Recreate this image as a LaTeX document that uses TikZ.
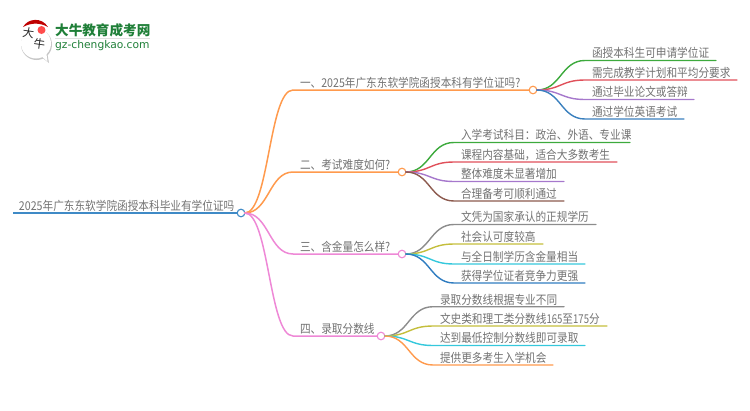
\documentclass[tikz,border=0pt]{standalone}
\usepackage{fontspec}
\setmainfont{Noto Sans CJK SC}
\newfontfamily\urlfont{DejaVu Sans}
\newfontfamily\digitfont[FakeStretch=0.9]{Noto Sans CJK SC}
\usetikzlibrary{calc}
\definecolor{cRoot}{HTML}{3F8AC6}
\definecolor{cOrange}{HTML}{FF9A4D}
\definecolor{cPink}{HTML}{EE88D6}
\definecolor{cGreen}{HTML}{3DAA3D}
\definecolor{cRed}{HTML}{E0505A}
\definecolor{cPurple}{HTML}{A678CC}
\definecolor{cBlue}{HTML}{3A80BE}
\definecolor{cBrown}{HTML}{8C5A4E}
\definecolor{cGray}{HTML}{8C8C8C}
\definecolor{cOlive}{HTML}{C4BE3C}
\definecolor{cCyan}{HTML}{35C8DC}
\definecolor{cDeep}{HTML}{2F7CC0}
\definecolor{cLogo}{HTML}{1F7F38}
\definecolor{cText}{HTML}{727272}
\tikzset{
  label/.style={anchor=base west,inner sep=0pt,outer sep=0pt,text=cText,font=\fontsize{10.65}{12}\selectfont,yscale=1.14,transform shape},
  hub/.style={circle,draw=#1,fill=white,line width=1.1pt,minimum size=7.6pt,inner sep=0pt,outer sep=0pt},
  branchline/.style={draw=#1,line width=1.5pt,line cap=round},
  leafline/.style={draw=#1,line width=1.4pt,line cap=round}
}
% leaf: name, parent hub, bend end x, y, end x, colour, text x, text
\newcommand{\leafitem}[8]{%
  \coordinate (#1s) at (#3,#4);
  \coordinate (#1e) at (#5,#4);
  \node[label] (#1) at (#7,#4-2.6) {#8};
  \draw[leafline=#6] (#2.east) .. controls ($(#2.east)!0.5!(#2.east -| #1s)$) and ($(#1s)!0.5!(#1s -| #2.east)$) .. (#1s) -- (#1e);
}
% branch: name, y, hub x, colour, text
\newcommand{\branchitem}[5]{%
  \node[hub=#4] (#1) at (#3,#2) {};
  \coordinate (#1s) at (293,#2);
  \node[label] (#1t) at (300,#2-2.6) {#5};
  \draw[branchline=#4] (root.east) .. controls (269,213) and (269,#2) .. (#1s) -- (#1.west);
}
\begin{document}
\begin{tikzpicture}[x=1pt,y=-1pt]
\useasboundingbox (0,0) rectangle (750,410);
% logo
\fill[black!22] (36.5,44.5) circle (15.5);
\fill[black!22] (40,56) -- (49,63) -- (47,52) -- cycle;
\fill[white] (36,43.5) circle (15);
\fill[white] (40,55) -- (47.5,61.5) -- (46,51) -- cycle;
\fill[red!75!black] (23,27) .. controls (28,18) and (42,17) .. (48,27) .. controls (40,22.5) and (31,22.5) .. (23,27) -- cycle;
\fill[red!70!white] (41.5,30) circle (4);
\node[inner sep=0pt,text=black!85,font=\fontsize{11.5}{12}\selectfont,rotate=-8] (logoa) at (28.5,32.5) {大};
\node[inner sep=0pt,text=black!85,font=\fontsize{11.5}{12}\selectfont,rotate=-8] (logob) at (39.5,43.5) {牛};
\node[anchor=base west,inner sep=0pt,text=cLogo,font=\fontsize{13.6}{14}\selectfont\bfseries] (brand) at (55,35) {大牛教育成考网};
\draw[black!12,line width=0.8pt] (55,38.5) -- (150,38.5);
\node[anchor=base west,inner sep=0pt,text=cLogo,font=\urlfont\fontsize{10.7}{12}\selectfont] (site) at (55,48) {gz-chengkao.com};
% root
\node[hub=cRoot] (root) at (241,213) {};
\coordinate (rootstart) at (13,213);
\node[label] (roott) at (19,210.2) {2025年广东东软学院函授本科毕业有学位证吗};
\draw[draw=cRoot,line width=2pt] (rootstart) -- (root.west);
% branches
\branchitem{ba}{90}{533}{cOrange}{一、2025年广东东软学院函授本科有学位证吗?}
\branchitem{bb}{172}{402}{cOrange}{二、考试难度如何?}
\branchitem{bc}{254}{402}{cPink}{三、含金量怎么样?}
\branchitem{bd}{336}{381}{cPink}{四、录取分数线}
% leaves
\leafitem{a1}{ba}{585}{60.5}{716}{cGreen}{592}{函授本科生可申请学位证}
\leafitem{a2}{ba}{585}{80}{737}{cRed}{592}{需完成教学计划和平均分要求}
\leafitem{a3}{ba}{585}{99.5}{694}{cPurple}{592}{通过毕业论文或答辩}
\leafitem{a4}{ba}{585}{119}{684}{cBlue}{592}{通过学位英语考试}
\leafitem{b1}{bb}{454}{142.5}{630}{cGreen}{461}{入学考试科目^^^^ff1a政治、外语、专业课}
\leafitem{b2}{bb}{454}{162}{617}{cRed}{461}{课程内容基础^^^^ff0c适合大多数考生}
\leafitem{b3}{bb}{454}{181.5}{564}{cPurple}{461}{整体难度未显著增加}
\leafitem{b4}{bb}{454}{201}{564}{cBrown}{461}{合理备考可顺利通过}
\leafitem{c1}{bc}{454}{224.5}{596}{cGray}{461}{文凭为国家承认的正规学历}
\leafitem{c2}{bc}{454}{244}{543}{cOlive}{461}{社会认可度较高}
\leafitem{c3}{bc}{454}{264}{585}{cCyan}{461}{与全日制学历含金量相当}
\leafitem{c4}{bc}{454}{283}{585}{cDeep}{461}{获得学位证者竞争力更强}
\leafitem{d1}{bd}{433}{306.7}{564}{cGray}{440}{录取分数线根据专业不同}
\leafitem{d2}{bd}{433}{326}{607}{cOlive}{440}{文史类和理工类分数线{\digitfont 165}至{\digitfont 175}分}
\leafitem{d3}{bd}{433}{345.5}{585}{cCyan}{440}{达到最低控制分数线即可录取}
\leafitem{d4}{bd}{433}{365}{553}{cOrange}{440}{提供更多考生入学机会}
\end{tikzpicture}
\end{document}
